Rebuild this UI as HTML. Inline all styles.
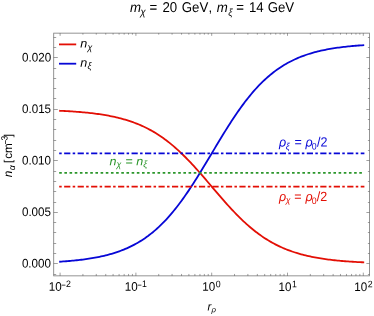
<!DOCTYPE html>
<html><head><meta charset="utf-8"><title>plot</title>
<style>
html,body{margin:0;padding:0;background:#fff;}
body{width:374px;height:316px;overflow:hidden;}
svg{display:block;will-change:transform;text-rendering:geometricPrecision;font-family:"Liberation Sans",sans-serif;}
</style></head><body>
<svg width="374" height="316" viewBox="0 0 374 316">
<rect width="374" height="316" fill="#fff"/>
<g fill="none" stroke-width="1.8" stroke-linecap="square" stroke-linejoin="round">
<path d="M60.10 110.79 L61.62 110.86 L63.13 110.93 L64.65 111.01 L66.16 111.09 L67.68 111.18 L69.20 111.27 L70.71 111.36 L72.23 111.46 L73.74 111.56 L75.26 111.67 L76.78 111.78 L78.29 111.90 L79.81 112.02 L81.32 112.15 L82.84 112.28 L84.36 112.42 L85.87 112.57 L87.39 112.72 L88.90 112.88 L90.42 113.05 L91.94 113.22 L93.45 113.40 L94.97 113.59 L96.48 113.79 L98.00 114.00 L99.52 114.21 L101.03 114.44 L102.55 114.67 L104.06 114.92 L105.58 115.18 L107.10 115.44 L108.61 115.72 L110.13 116.02 L111.64 116.32 L113.16 116.64 L114.68 116.97 L116.19 117.31 L117.71 117.67 L119.22 118.04 L120.74 118.43 L122.26 118.84 L123.77 119.26 L125.29 119.70 L126.80 120.16 L128.32 120.64 L129.84 121.13 L131.35 121.64 L132.87 122.18 L134.38 122.74 L135.90 123.31 L137.42 123.91 L138.93 124.54 L140.45 125.18 L141.96 125.85 L143.48 126.55 L145.00 127.27 L146.51 128.01 L148.03 128.78 L149.54 129.58 L151.06 130.41 L152.58 131.26 L154.09 132.15 L155.61 133.06 L157.12 134.00 L158.64 134.98 L160.16 135.98 L161.67 137.01 L163.19 138.08 L164.70 139.17 L166.22 140.30 L167.74 141.46 L169.25 142.65 L170.77 143.87 L172.28 145.12 L173.80 146.40 L175.32 147.72 L176.83 149.06 L178.35 150.44 L179.86 151.85 L181.38 153.28 L182.90 154.75 L184.41 156.24 L185.93 157.76 L187.44 159.31 L188.96 160.88 L190.48 162.47 L191.99 164.09 L193.51 165.73 L195.02 167.39 L196.54 169.07 L198.06 170.77 L199.57 172.48 L201.09 174.21 L202.60 175.95 L204.12 177.70 L205.64 179.46 L207.15 181.23 L208.67 183.01 L210.18 184.78 L211.70 186.56 L213.22 188.34 L214.73 190.12 L216.25 191.90 L217.76 193.66 L219.28 195.42 L220.80 197.18 L222.31 198.92 L223.83 200.65 L225.34 202.36 L226.86 204.06 L228.38 205.74 L229.89 207.40 L231.41 209.04 L232.92 210.66 L234.44 212.25 L235.96 213.82 L237.47 215.37 L238.99 216.89 L240.50 218.38 L242.02 219.84 L243.54 221.28 L245.05 222.69 L246.57 224.06 L248.08 225.41 L249.60 226.72 L251.12 228.01 L252.63 229.26 L254.15 230.48 L255.66 231.67 L257.18 232.83 L258.70 233.96 L260.21 235.05 L261.73 236.12 L263.24 237.15 L264.76 238.15 L266.28 239.12 L267.79 240.07 L269.31 240.98 L270.82 241.86 L272.34 242.72 L273.86 243.54 L275.37 244.34 L276.89 245.12 L278.40 245.86 L279.92 246.58 L281.44 247.28 L282.95 247.95 L284.47 248.59 L285.98 249.21 L287.50 249.81 L289.02 250.39 L290.53 250.95 L292.05 251.48 L293.56 252.00 L295.08 252.49 L296.60 252.97 L298.11 253.43 L299.63 253.87 L301.14 254.29 L302.66 254.69 L304.18 255.08 L305.69 255.46 L307.21 255.82 L308.72 256.16 L310.24 256.49 L311.76 256.81 L313.27 257.11 L314.79 257.40 L316.30 257.68 L317.82 257.95 L319.34 258.21 L320.85 258.45 L322.37 258.69 L323.88 258.91 L325.40 259.13 L326.92 259.34 L328.43 259.54 L329.95 259.73 L331.46 259.91 L332.98 260.08 L334.50 260.25 L336.01 260.41 L337.53 260.56 L339.04 260.71 L340.56 260.85 L342.08 260.98 L343.59 261.11 L345.11 261.23 L346.62 261.35 L348.14 261.46 L349.66 261.56 L351.17 261.67 L352.69 261.76 L354.20 261.86 L355.72 261.95 L357.24 262.03 L358.75 262.11 L360.27 262.19 L361.78 262.27 L363.30 262.34" stroke="#e30f05"/>
<path d="M60.10 261.68 L61.62 261.58 L63.13 261.47 L64.65 261.36 L66.16 261.25 L67.68 261.12 L69.20 261.00 L70.71 260.86 L72.23 260.72 L73.74 260.58 L75.26 260.42 L76.78 260.26 L78.29 260.10 L79.81 259.92 L81.32 259.74 L82.84 259.55 L84.36 259.35 L85.87 259.14 L87.39 258.92 L88.90 258.70 L90.42 258.46 L91.94 258.21 L93.45 257.95 L94.97 257.68 L96.48 257.40 L98.00 257.10 L99.52 256.79 L101.03 256.47 L102.55 256.13 L104.06 255.78 L105.58 255.41 L107.10 255.03 L108.61 254.63 L110.13 254.22 L111.64 253.78 L113.16 253.33 L114.68 252.86 L116.19 252.36 L117.71 251.85 L119.22 251.32 L120.74 250.76 L122.26 250.18 L123.77 249.58 L125.29 248.95 L126.80 248.30 L128.32 247.62 L129.84 246.91 L131.35 246.17 L132.87 245.41 L134.38 244.62 L135.90 243.79 L137.42 242.93 L138.93 242.04 L140.45 241.12 L141.96 240.16 L143.48 239.17 L145.00 238.14 L146.51 237.08 L148.03 235.98 L149.54 234.83 L151.06 233.65 L152.58 232.43 L154.09 231.17 L155.61 229.87 L157.12 228.52 L158.64 227.13 L160.16 225.70 L161.67 224.22 L163.19 222.70 L164.70 221.14 L166.22 219.53 L167.74 217.87 L169.25 216.17 L170.77 214.43 L172.28 212.64 L173.80 210.80 L175.32 208.93 L176.83 207.00 L178.35 205.04 L179.86 203.03 L181.38 200.98 L182.90 198.88 L184.41 196.75 L185.93 194.58 L187.44 192.37 L188.96 190.13 L190.48 187.85 L191.99 185.54 L193.51 183.19 L195.02 180.82 L196.54 178.42 L198.06 176.00 L199.57 173.55 L201.09 171.08 L202.60 168.59 L204.12 166.09 L205.64 163.58 L207.15 161.05 L208.67 158.51 L210.18 155.97 L211.70 153.43 L213.22 150.89 L214.73 148.35 L216.25 145.82 L217.76 143.29 L219.28 140.77 L220.80 138.27 L222.31 135.78 L223.83 133.32 L225.34 130.87 L226.86 128.44 L228.38 126.04 L229.89 123.67 L231.41 121.33 L232.92 119.02 L234.44 116.74 L235.96 114.49 L237.47 112.28 L238.99 110.11 L240.50 107.98 L242.02 105.89 L243.54 103.84 L245.05 101.83 L246.57 99.86 L248.08 97.94 L249.60 96.06 L251.12 94.23 L252.63 92.44 L254.15 90.69 L255.66 88.99 L257.18 87.34 L258.70 85.73 L260.21 84.16 L261.73 82.64 L263.24 81.17 L264.76 79.73 L266.28 78.35 L267.79 77.00 L269.31 75.70 L270.82 74.43 L272.34 73.21 L273.86 72.03 L275.37 70.89 L276.89 69.79 L278.40 68.72 L279.92 67.69 L281.44 66.70 L282.95 65.74 L284.47 64.82 L285.98 63.93 L287.50 63.07 L289.02 62.25 L290.53 61.46 L292.05 60.69 L293.56 59.96 L295.08 59.25 L296.60 58.57 L298.11 57.92 L299.63 57.29 L301.14 56.68 L302.66 56.10 L304.18 55.55 L305.69 55.01 L307.21 54.50 L308.72 54.01 L310.24 53.54 L311.76 53.08 L313.27 52.65 L314.79 52.23 L316.30 51.83 L317.82 51.45 L319.34 51.08 L320.85 50.73 L322.37 50.40 L323.88 50.07 L325.40 49.77 L326.92 49.47 L328.43 49.19 L329.95 48.92 L331.46 48.66 L332.98 48.41 L334.50 48.17 L336.01 47.94 L337.53 47.72 L339.04 47.52 L340.56 47.32 L342.08 47.12 L343.59 46.94 L345.11 46.77 L346.62 46.60 L348.14 46.44 L349.66 46.29 L351.17 46.14 L352.69 46.00 L354.20 45.87 L355.72 45.74 L357.24 45.62 L358.75 45.50 L360.27 45.39 L361.78 45.28 L363.30 45.18" stroke="#0707d6"/>
<path d="M59.9 44.4 H75.3" stroke="#e30f05"/>
<path d="M59.9 63.7 H75.3" stroke="#0707d6"/>
</g>
<g fill="none" stroke-width="1.85">
<path d="M59.2 153.43 H364.4" stroke="#0707d6" stroke-dasharray="2.5 2.45 6.2 2.33"/>
<path d="M59.2 172.92 H362.6" stroke="#2b962b" stroke-dasharray="2.6 2.574"/>
<path d="M59.2 186.56 H364.4" stroke="#e30f05" stroke-dasharray="2.5 2.45 6.2 2.33"/>
</g>
<rect x="53.7" y="33.15" width="315.8" height="242.70000000000002" fill="none" stroke="#808080" stroke-width="0.85"/>
<path d="M53.70 274.50 h2.50 M369.50 274.50 h-1.60 M53.70 263.50 h4.10 M369.50 263.50 h-3.10 M53.70 253.50 h2.50 M369.50 253.50 h-1.60 M53.70 243.50 h2.50 M369.50 243.50 h-1.60 M53.70 232.50 h2.50 M369.50 232.50 h-1.60 M53.70 222.50 h2.50 M369.50 222.50 h-1.60 M53.70 212.50 h4.10 M369.50 212.50 h-3.10 M53.70 202.50 h2.50 M369.50 202.50 h-1.60 M53.70 191.50 h2.50 M369.50 191.50 h-1.60 M53.70 181.50 h2.50 M369.50 181.50 h-1.60 M53.70 171.50 h2.50 M369.50 171.50 h-1.60 M53.70 160.50 h4.10 M369.50 160.50 h-3.10 M53.70 150.50 h2.50 M369.50 150.50 h-1.60 M53.70 140.50 h2.50 M369.50 140.50 h-1.60 M53.70 129.50 h2.50 M369.50 129.50 h-1.60 M53.70 119.50 h2.50 M369.50 119.50 h-1.60 M53.70 109.50 h4.10 M369.50 109.50 h-3.10 M53.70 98.50 h2.50 M369.50 98.50 h-1.60 M53.70 88.50 h2.50 M369.50 88.50 h-1.60 M53.70 78.50 h2.50 M369.50 78.50 h-1.60 M53.70 68.50 h2.50 M369.50 68.50 h-1.60 M53.70 57.50 h4.10 M369.50 57.50 h-3.10 M53.70 47.50 h2.50 M369.50 47.50 h-1.60 M53.70 37.50 h2.50 M369.50 37.50 h-1.60 M60.10 275.85 v-3.20 M60.10 33.15 v2.70 M82.92 275.85 v-1.90 M82.92 33.15 v1.50 M96.27 275.85 v-1.90 M96.27 33.15 v1.50 M105.74 275.85 v-1.90 M105.74 33.15 v1.50 M113.08 275.85 v-1.90 M113.08 33.15 v1.50 M119.08 275.85 v-1.90 M119.08 33.15 v1.50 M124.16 275.85 v-1.90 M124.16 33.15 v1.50 M128.55 275.85 v-1.90 M128.55 33.15 v1.50 M132.43 275.85 v-1.90 M132.43 33.15 v1.50 M135.90 275.85 v-3.20 M135.90 33.15 v2.70 M158.72 275.85 v-1.90 M158.72 33.15 v1.50 M172.07 275.85 v-1.90 M172.07 33.15 v1.50 M181.54 275.85 v-1.90 M181.54 33.15 v1.50 M188.88 275.85 v-1.90 M188.88 33.15 v1.50 M194.88 275.85 v-1.90 M194.88 33.15 v1.50 M199.96 275.85 v-1.90 M199.96 33.15 v1.50 M204.35 275.85 v-1.90 M204.35 33.15 v1.50 M208.23 275.85 v-1.90 M208.23 33.15 v1.50 M211.70 275.85 v-3.20 M211.70 33.15 v2.70 M234.52 275.85 v-1.90 M234.52 33.15 v1.50 M247.87 275.85 v-1.90 M247.87 33.15 v1.50 M257.34 275.85 v-1.90 M257.34 33.15 v1.50 M264.68 275.85 v-1.90 M264.68 33.15 v1.50 M270.68 275.85 v-1.90 M270.68 33.15 v1.50 M275.76 275.85 v-1.90 M275.76 33.15 v1.50 M280.15 275.85 v-1.90 M280.15 33.15 v1.50 M284.03 275.85 v-1.90 M284.03 33.15 v1.50 M287.50 275.85 v-3.20 M287.50 33.15 v2.70 M310.32 275.85 v-1.90 M310.32 33.15 v1.50 M323.67 275.85 v-1.90 M323.67 33.15 v1.50 M333.14 275.85 v-1.90 M333.14 33.15 v1.50 M340.48 275.85 v-1.90 M340.48 33.15 v1.50 M346.48 275.85 v-1.90 M346.48 33.15 v1.50 M351.56 275.85 v-1.90 M351.56 33.15 v1.50 M355.95 275.85 v-1.90 M355.95 33.15 v1.50 M359.83 275.85 v-1.90 M359.83 33.15 v1.50 M363.30 275.85 v-3.20 M363.30 33.15 v2.70" fill="none" stroke="#505050" stroke-width="0.55"/>
<g fill="#000" transform="rotate(0.05 187 158)">
<text transform="translate(51.00 267.67) scale(1 1.07)" font-size="11.60" text-anchor="end">0.000</text>
<text transform="translate(51.00 216.13) scale(1 1.07)" font-size="11.60" text-anchor="end">0.005</text>
<text transform="translate(51.00 164.60) scale(1 1.07)" font-size="11.60" text-anchor="end">0.010</text>
<text transform="translate(51.00 113.06) scale(1 1.07)" font-size="11.60" text-anchor="end">0.015</text>
<text transform="translate(51.00 61.52) scale(1 1.07)" font-size="11.60" text-anchor="end">0.020</text>
<text transform="translate(48.80 290.80) scale(1 1.07)" font-size="11.60">10</text>
<text transform="translate(61.40 288.60) scale(0.74 1.00)" font-size="10.50">−</text>
<text transform="translate(66.00 287.10) scale(1 1.07)" font-size="8.80">2</text>
<text transform="translate(124.80 290.80) scale(1 1.07)" font-size="11.60">10</text>
<text transform="translate(137.40 288.60) scale(0.74 1.00)" font-size="10.50">−</text>
<text transform="translate(142.00 287.10) scale(1 1.07)" font-size="8.80">1</text>
<text transform="translate(202.40 290.80) scale(1 1.07)" font-size="11.60">10</text>
<text transform="translate(215.80 287.10) scale(1 1.07)" font-size="8.80">0</text>
<text transform="translate(278.60 290.80) scale(1 1.07)" font-size="11.60">10</text>
<text transform="translate(292.00 287.10) scale(1 1.07)" font-size="8.80">1</text>
<text transform="translate(354.40 290.80) scale(1 1.07)" font-size="11.60">10</text>
<text transform="translate(367.80 287.10) scale(1 1.07)" font-size="8.80">2</text>
<text transform="translate(129.90 12.00) scale(1 1.04)" font-size="13.25" font-style="italic">m</text>
<text transform="translate(140.20 15.30) scale(1 1.04)" font-size="10.00" font-style="italic">χ</text>
<text transform="translate(149.30 12.00) scale(1 1.07)" font-size="13.25">=</text>
<text transform="translate(162.30 12.00) scale(1 1.07)" font-size="13.25">20</text>
<text transform="translate(181.60 12.00) scale(1 1.07)" font-size="13.25">GeV</text>
<text transform="translate(208.40 12.00) scale(1 1.07)" font-size="13.25">,</text>
<text transform="translate(216.70 12.00) scale(1 1.04)" font-size="13.25" font-style="italic">m</text>
<text transform="translate(228.10 15.60) scale(1 1.04)" font-size="9.60" font-style="italic">ξ</text>
<text transform="translate(236.00 12.00) scale(1 1.07)" font-size="13.25">=</text>
<text transform="translate(248.80 12.00) scale(1 1.07)" font-size="13.25">14</text>
<text transform="translate(267.50 12.00) scale(1 1.07)" font-size="13.25">GeV</text>
<text transform="translate(80.20 47.70) scale(1 0.97)" font-size="12.60" font-style="italic">n</text>
<text transform="translate(87.30 50.40) scale(1 1.04)" font-size="8.80" font-style="italic">χ</text>
<text transform="translate(80.20 66.90) scale(1 0.97)" font-size="12.60" font-style="italic">n</text>
<text transform="translate(87.50 69.00) scale(1 1.04)" font-size="9.00" font-style="italic">ξ</text>
<text transform="translate(279.10 146.50) scale(1 1.04)" font-size="12.50" fill="#0707d6" font-style="italic">ρ</text>
<text transform="translate(285.80 149.40) scale(1 1.04)" font-size="9.00" fill="#0707d6" font-style="italic">ξ</text>
<text transform="translate(294.40 146.50) scale(1 1.07)" font-size="12.50" fill="#0707d6">=</text>
<text transform="translate(305.50 146.50) scale(1 1.04)" font-size="12.50" fill="#0707d6" font-style="italic">ρ</text>
<text transform="translate(311.70 149.40) scale(1 1.07)" font-size="8.80" fill="#0707d6">0</text>
<text transform="translate(316.90 146.50) scale(1 1.07)" font-size="12.50" fill="#0707d6">/2</text>
<text transform="translate(279.10 200.90) scale(1 1.04)" font-size="12.50" fill="#e30f05" font-style="italic">ρ</text>
<text transform="translate(285.80 202.90) scale(1 1.04)" font-size="8.60" fill="#e30f05" font-style="italic">χ</text>
<text transform="translate(294.40 200.90) scale(1 1.07)" font-size="12.50" fill="#e30f05">=</text>
<text transform="translate(305.50 200.90) scale(1 1.04)" font-size="12.50" fill="#e30f05" font-style="italic">ρ</text>
<text transform="translate(311.70 203.80) scale(1 1.07)" font-size="8.80" fill="#e30f05">0</text>
<text transform="translate(316.90 200.90) scale(1 1.07)" font-size="12.50" fill="#e30f05">/2</text>
<text transform="translate(109.60 165.40) scale(1 0.95)" font-size="12.50" fill="#2b962b" font-style="italic">n</text>
<text transform="translate(116.50 167.30) scale(1 1.04)" font-size="8.80" fill="#2b962b" font-style="italic">χ</text>
<text transform="translate(125.40 165.70) scale(1 1.07)" font-size="12.50" fill="#2b962b">=</text>
<text transform="translate(136.20 165.40) scale(1 0.95)" font-size="12.50" fill="#2b962b" font-style="italic">n</text>
<text transform="translate(143.20 167.20) scale(1 1.04)" font-size="9.00" fill="#2b962b" font-style="italic">ξ</text>
<text transform="translate(207.60 310.50) scale(1 1.04)" font-size="11.20" font-style="italic">r</text>
<text transform="translate(211.60 312.20) scale(1 1.04)" font-size="7.80" font-style="italic">ρ</text>
<g transform="translate(12.0,177.3) rotate(-90)">
<text transform="translate(0 0) scale(1 1.02)" font-size="11.8" font-style="italic">n</text>
<text transform="translate(6.9 3.1)" font-size="8.8" font-style="italic">α</text>
<text transform="translate(14.2 0) scale(1 0.98)" font-size="11.6">[</text>
<text transform="translate(18.4 0) scale(1 1.02)" font-size="11.6">cm</text>
<text transform="translate(32.9 -2.9) scale(0.72 1)" font-size="10.5">−</text>
<text transform="translate(36.7 -4.5) scale(1 1.07)" font-size="8.4">3</text>
<text transform="translate(40.0 0) scale(1 0.98)" font-size="11.6">]</text>
</g>
</g>
</svg>
</body></html>
